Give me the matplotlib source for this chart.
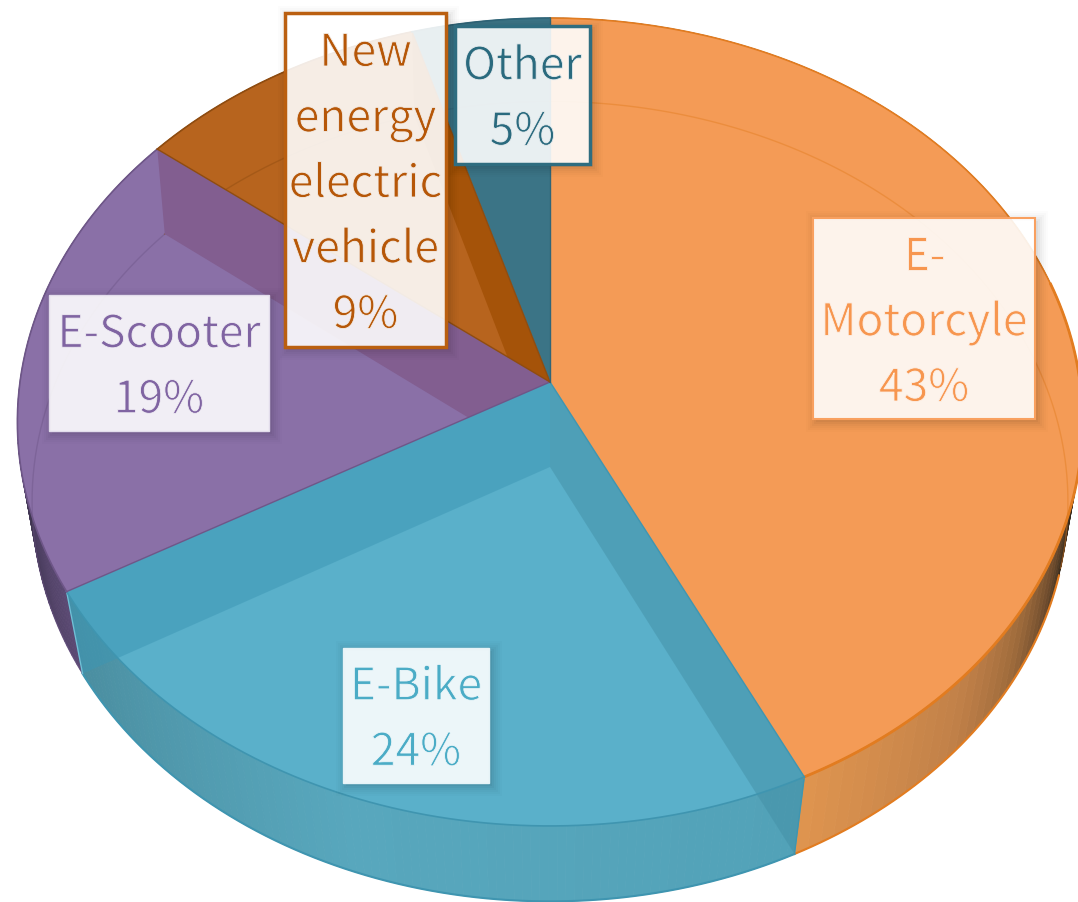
import numpy as np
import matplotlib
matplotlib.use("Agg")
import matplotlib.pyplot as plt
import matplotlib.patheffects as pe
from matplotlib.patches import Polygon, PathPatch, Rectangle
from matplotlib.path import Path

names = ["E-Motorcyle", "E-Bike", "E-Scooter", "New energy electric vehicle", "Other"]
values = [42.8, 23.9, 18.9, 9.8, 4.6]
pct_labels = ["43%", "24%", "19%", "9%", "5%"]
label_lines = [
    ["E-", "Motorcyle", "43%"],
    ["E-Bike", "24%"],
    ["E-Scooter", "19%"],
    ["New", "energy", "electric", "vehicle", "9%"],
    ["Other", "5%"],
]

top_colors = ["#F49B56", "#5AB0CA", "#8A70A7", "#B7641E", "#3B7486"]
line_colors = ["#E27C20", "#3F95B0", "#6E5688", "#8F4C10", "#2F6578"]
text_colors = ["#F7964F", "#4BACC6", "#8064A2", "#B65708", "#2A6A7E"]
text_bg = ["#FDF1E8", "#EEF7FA", "#F1EEF5", "#F5EEE8", "#E9EEF0"]
box_edges = ["#F9A05F", "#E6F3F7", "#E2DCEB", "#BA5F10", "#2F6D80"]
box_edge_w = [1.5, 1.0, 1.0, 2.5, 2.5]
# left, top, right, bottom in pixels
boxes = [
    (813, 218, 1035, 419),
    (343, 648, 489, 783),
    (49, 295, 269, 431),
    (285, 13, 446, 347),
    (455, 26, 590, 164),
]
# side wall shading, angle (deg clockwise from top) -> colour
side_angles = [[90, 105, 112, 122, 132, 154], [154, 200, 240], [240, 262, 308], [308, 343], [343, 360]]
side_shades = [
    ["#30241A", "#35291C", "#6B4A2C", "#A06C3C", "#C08048", "#E0954F"],
    ["#52A2B8", "#58A7BD", "#4A8D9F"],
    ["#5C4A74", "#3F3550", "#3F3550"],
    ["#7A430F", "#7A430F"],
    ["#2F6578", "#2F6578"],
]

W, H = 1078, 902
cx = 550
top_y, bot_y = 382, 467
top_R, bot_R = 530, 516
top_A, bot_A = 400, 397
top_k, bot_k = 0.099, 0.086


def project(deg, R, A, k, y0):
    t = np.radians(deg)
    u, v = np.sin(t), np.cos(t)
    s = 1 / (1 + k * v)
    return np.column_stack([cx + R * u * s, y0 - A * v * s])


def top_rim(deg):
    return project(deg, top_R, top_A, top_k, top_y)


def bot_rim(deg):
    return project(deg, bot_R, bot_A, bot_k, bot_y)


def hex_rgb(c):
    return np.array(matplotlib.colors.to_rgb(c))


ends = np.cumsum(values) / np.sum(values) * 360
starts = np.concatenate([[0], ends[:-1]])

fig = plt.figure(figsize=(W / 100, H / 100), dpi=100)
ax = fig.add_axes([0, 0, 1, 1])
ax.set_xlim(0, W)
ax.set_ylim(H, 0)
ax.axis("off")

# side walls
for i in range(5):
    a = np.linspace(starts[i], ends[i], 100)
    rgb = np.array([hex_rgb(c) for c in side_shades[i]])
    t_pts, b_pts = top_rim(a), bot_rim(a)
    for j in range(len(a) - 1):
        col = [np.interp(a[j], side_angles[i], rgb[:, n]) for n in range(3)]
        ax.add_patch(Polygon([t_pts[j], t_pts[j + 1], b_pts[j + 1], b_pts[j]], fc=col, ec=col, lw=0.6, zorder=1))

# top faces
wedges = []
for i in range(5):
    a = np.linspace(starts[i], ends[i], 150)
    pts = np.vstack([[[cx, top_y]], top_rim(a)])
    w = Polygon(pts, closed=True, fc=top_colors[i], ec="none", zorder=2)
    ax.add_patch(w)
    wedges.append(w)

# bottom rim seen through the top
for i in range(5):
    a = np.linspace(starts[i], ends[i], 150)
    pts = bot_rim(a)
    front = np.cos(np.radians(a)) < -0.25
    if i == 2:
        front[:] = False
    ax.plot(pts[~front, 0], pts[~front, 1], color=line_colors[i], lw=1.0, alpha=0.45, zorder=3)
    ax.plot(pts[front, 0], pts[front, 1], color=line_colors[i], lw=1.5, zorder=3)

# inner walls, clipped to the slice they are seen through
for i, fc in [(2, "#825E90"), (3, "#A55309")]:
    p = np.vstack([top_rim([ends[i]]), [[cx, top_y]], [[cx, bot_y]], bot_rim([ends[i]])])
    wall = Polygon(p, closed=True, fc=fc, ec="none", zorder=4)
    ax.add_patch(wall)
    wall.set_clip_path(wedges[i])

p = np.vstack([top_rim([ends[1]]), [[cx, top_y]], [[cx, bot_y]], bot_rim([ends[1]])])
ax.add_patch(Polygon(p, closed=True, fc="#3C96B4", ec="none", alpha=0.5, zorder=4))
p = np.vstack([top_rim([ends[0]]), [[cx, top_y]], [[cx, bot_y]], bot_rim([ends[0]])])
ax.add_patch(Polygon(p, closed=True, fc="#4490A6", ec="none", alpha=0.5, zorder=4))

# vertical edges at the slice joins
for deg, col in [(ends[0], line_colors[1]), (ends[1], "#6FC0D6")]:
    e = np.vstack([top_rim([deg]), bot_rim([deg])])
    ax.plot(e[:, 0], e[:, 1], color=col, lw=1.0, zorder=5)

# top outlines, heavier along the front of the big slice
for i in range(5):
    a = np.linspace(starts[i], ends[i], 150)
    pts = top_rim(a)
    ax.plot(pts[:, 0], pts[:, 1], color=line_colors[i], lw=1.2, zorder=6)
    if i == 0:
        f = a > 75
        ax.plot(pts[f, 0], pts[f, 1], color=line_colors[i], lw=2.0, zorder=6)
    edge = np.vstack([top_rim([ends[i]]), [[cx, top_y]]])
    ax.plot(edge[:, 0], edge[:, 1], color=line_colors[(i + 1) % 5 if i < 3 else i], lw=1.0, zorder=6)

# labels
for i, (l, t, r, b) in enumerate(boxes):
    hole = [(l, t), (r, t), (r, b), (l, b), (l, t)]
    for grow, al in [(10, 0.012), (8, 0.016), (6, 0.02), (4, 0.025), (2, 0.03), (0, 0.04)]:
        outer = [(l + 3 - grow, t + 3 - grow), (l + 3 - grow, b + 3 + grow), (r + 3 + grow, b + 3 + grow),
                 (r + 3 + grow, t + 3 - grow), (l + 3 - grow, t + 3 - grow)]
        verts = outer + hole
        codes = [Path.MOVETO] + [Path.LINETO] * 3 + [Path.CLOSEPOLY] + [Path.MOVETO] + [Path.LINETO] * 3 + [Path.CLOSEPOLY]
        ax.add_patch(PathPatch(Path(verts, codes), fc="black", ec="none", alpha=al, zorder=7))
    ax.add_patch(Rectangle((l, t), r - l, b - t, fc=(1, 1, 1, 0.89), ec=box_edges[i], lw=box_edge_w[i], zorder=8))
    n = len(label_lines[i])
    mid = (t + b) / 2 + 17
    for j, s in enumerate(label_lines[i]):
        txt = ax.text((l + r) / 2, mid + (j - (n - 1) / 2) * 65.5, s, color=text_colors[i], fontsize=32,
                      family=["Noto Sans CJK SC", "DejaVu Sans"], fontweight="light",
                      ha="center", va="baseline", zorder=9)
        # thin the strokes, the original face is a light one
        txt.set_path_effects([pe.Stroke(linewidth=0.6, foreground=text_bg[i])])

fig.savefig("out.png", dpi=100, facecolor="white")
